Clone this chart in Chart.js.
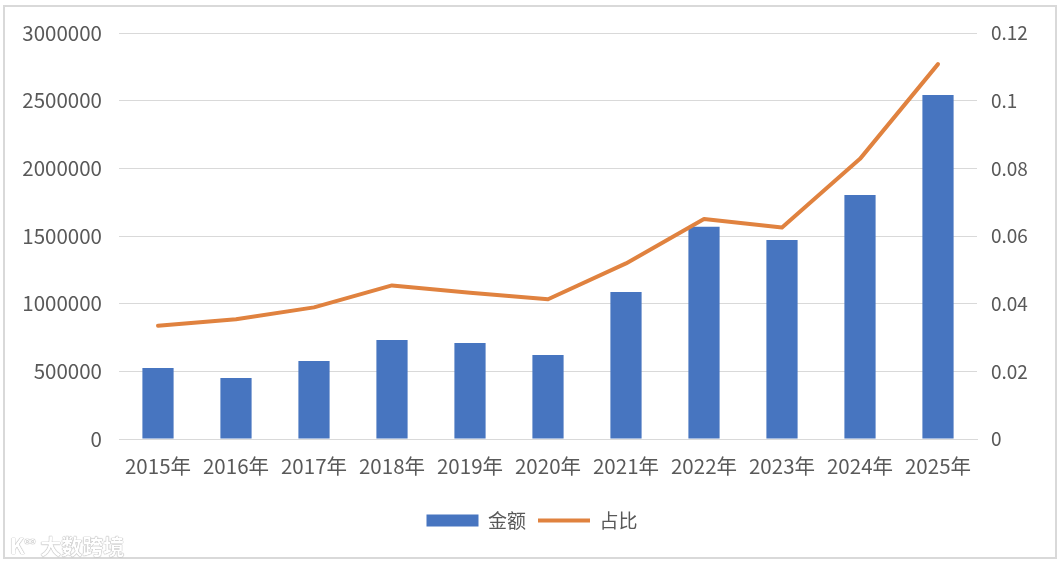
<!DOCTYPE html>
<html>
<head>
<meta charset="utf-8">
<script src="https://cdn.jsdelivr.net/npm/chart.js@4/dist/chart.umd.min.js"></script>
<style>
  html, body { margin: 0; padding: 0; background: #fff; }
  #wrap { position: relative; width: 1064px; height: 564px; }
  #frame { position: absolute; left: 3px; top: 5px; width: 1050px; height: 550px; border: 2px solid #d9d9d9; pointer-events: none; }
  #wm { position: absolute; left: 10px; top: 530px; font-family: "Noto Sans CJK SC", sans-serif; font-size: 21px; font-weight: bold; color: #ffffff; text-shadow: 0 0 1px #9a9a9a, 0 0 1px #9a9a9a; }
</style>
</head>
<body>
<div id="wrap">
  <canvas id="c" width="1064" height="564"></canvas>
  <div id="frame"></div>
  <div id="wm">K<sup style="font-size:11px">∞</sup> 大数跨境</div>
</div>
<script>
const categories = ['2015年','2016年','2017年','2018年','2019年','2020年','2021年','2022年','2023年','2024年','2025年'];
const amountValues = [525000, 451000, 576000, 731000, 709000, 620000, 1087000, 1569000, 1470000, 1803000, 2542000];
const shareValues = [0.0335, 0.0354, 0.0389, 0.0454, 0.0432, 0.0413, 0.0519, 0.0650, 0.0625, 0.0828, 0.1108];
const leftTickLabels = ['0','500000','1000000','1500000','2000000','2500000','3000000'];
const rightTickLabels = ['0','0.02','0.04','0.06','0.08','0.1','0.12'];
const seriesNames = ['金额', '占比'];

const FONT = '"Noto Sans CJK SC", "Noto Sans", sans-serif';
const TXT = '#595959';

new Chart(document.getElementById('c'), {
  data: {
    labels: categories,
    datasets: [
      {
        type: 'line',
        label: seriesNames[1],
        data: shareValues,
        yAxisID: 'y1',
        borderColor: '#E0823F',
        backgroundColor: '#E0823F',
        borderWidth: 4,
        pointRadius: 0,
        pointHoverRadius: 0,
        pointStyle: 'line',
        tension: 0,
        borderCapStyle: 'round',
        borderJoinStyle: 'round',
        order: 0
      },
      {
        type: 'bar',
        label: seriesNames[0],
        data: amountValues,
        yAxisID: 'y',
        backgroundColor: '#4775C0',
        borderWidth: 0,
        pointStyle: 'rect',
        barPercentage: 0.8,
        categoryPercentage: 0.5,
        order: 1
      }
    ]
  },
  options: {
    responsive: false,
    animation: false,
    devicePixelRatio: 1,
    layout: { padding: { left: 0, right: 0, top: 33, bottom: 24 } },
    plugins: {
      tooltip: { enabled: false },
      legend: {
        display: true,
        position: 'bottom',
        reverse: true,
        labels: {
          usePointStyle: true,
          pointStyleWidth: 52,
          boxHeight: 12,
          padding: 12,
          color: TXT,
          font: { family: FONT, size: 19 }
        }
      }
    },
    scales: {
      x: {
        grid: { display: false, drawTicks: false },
        border: { display: true, color: '#d9d9d9', width: 1 },
        ticks: { color: TXT, font: { family: FONT, size: 20.5 }, padding: 15, maxRotation: 0 },
        afterFit: (s) => { s.height = 60; }
      },
      y: {
        position: 'left',
        min: 0, max: 3000000,
        grid: { color: '#d9d9d9', lineWidth: 1, drawTicks: false },
        border: { display: false },
        ticks: {
          stepSize: 500000, color: TXT, font: { family: FONT, size: 20.5 }, padding: 17,
          callback: (v, i) => leftTickLabels[i]
        },
        afterFit: (s) => { s.width = 119; }
      },
      y1: {
        position: 'right',
        min: 0, max: 0.12,
        grid: { display: false, drawTicks: false },
        border: { display: false },
        ticks: {
          stepSize: 0.02, color: TXT, font: { family: FONT, size: 19 }, padding: 14,
          callback: (v, i) => rightTickLabels[i]
        },
        afterFit: (s) => { s.width = 87; }
      }
    }
  }
});
</script>
</body>
</html>
